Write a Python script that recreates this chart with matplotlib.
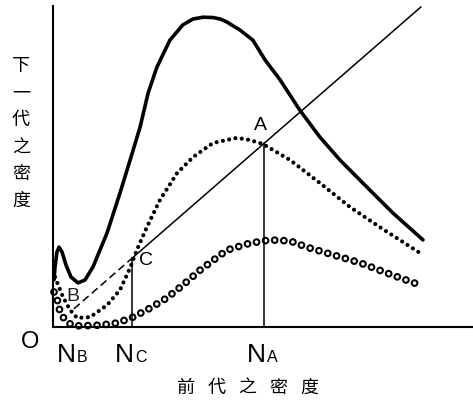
import matplotlib
matplotlib.use('Agg')
import matplotlib.pyplot as plt

plt.rcParams['lines.scale_dashes'] = False
plt.rcParams['font.family'] = ['Liberation Sans', 'DejaVu Sans']

# thick curve
solid_x = [0.24, 0.48, 0.95, 1.43, 2.15, 3.10, 4.30, 5.97, 7.64, 9.55, 12.9, 16.0,
           18.4, 20.8, 22.7, 24.8, 27.9, 31.0, 33.4, 35.8, 38.2, 39.9, 41.5, 43.0,
           44.6, 47.7, 50.6, 54.2, 58.9, 63.7, 68.5, 74.9, 81.1, 88.3]
solid_y = [12.9, 16.5, 20.6, 21.9, 20.6, 17.0, 13.7, 12.1, 12.9, 16.5, 25.8, 36.8,
           45.8, 54.9, 64.2, 71.3, 78.7, 82.9, 84.5, 85.0, 84.9, 84.5, 83.7, 82.6,
           81.5, 78.7, 73.3, 67.8, 59.5, 52.1, 45.8, 38.4, 31.3, 23.9]

# filled dotted curve
dot_x = [0.48, 2.39, 4.06, 5.73, 8.83, 12.9, 16.0, 18.4, 20.0, 22.4, 25.5, 29.6,
         33.4, 38.2, 43.9, 47.0, 50.1, 56.6, 63.7, 70.9, 78.0, 87.6]
dot_y = [13.7, 8.2, 4.7, 2.5, 2.7, 6.0, 10.2, 16.2, 21.1, 27.4, 34.8, 42.2,
         46.6, 50.5, 51.9, 51.3, 50.2, 45.8, 39.5, 32.9, 27.4, 20.3]

# open circle curve
ring_x = [0.24, 1.19, 1.67, 2.86, 4.5, 6.4, 11.2, 15.3, 19.1, 23.2, 27.2, 31.0,
          35.1, 41.5, 47.0, 51.8, 56.6, 60.6, 66.8, 73.3, 79.7, 87.6]
ring_y = [9.6, 6.9, 4.1, 1.9, 0.5, 0.3, 0.5, 1.1, 2.7, 5.2, 8.0, 11.5,
          15.6, 21.1, 23.0, 23.9, 23.6, 21.9, 19.8, 17.6, 14.8, 11.5]

# equilibrium points on the diagonal
N_B, N_C, N_A = 5.0, 18.9, 50.4
line_end = 87.8

xlabel = '前代之密度'
ylabel = '下一代之密度'

fig = plt.figure(figsize=(4.73, 4.01), dpi=100)
ax = fig.add_axes([53/473, 74/401, 419/473, 321/401])
ax.set_xlim(0, 100)
ax.set_ylim(0, 88.07)
for s in ['top', 'right']:
    ax.spines[s].set_visible(False)
for s in ['left', 'bottom']:
    ax.spines[s].set_linewidth(1.5)
ax.set_xticks([])
ax.set_yticks([])

# open circles: black dots with white centres, same dash pattern
ax.plot(ring_x, ring_y, color='k', lw=5.6, linestyle=(0, (0.01, 6.6)),
        dash_capstyle='round', clip_on=False)
ax.plot(ring_x, ring_y, color='white', lw=2.6, linestyle=(0, (0.01, 6.6)),
        dash_capstyle='round', clip_on=False)
ax.plot(dot_x, dot_y, color='k', lw=3.0, linestyle=(0, (0.01, 4.6)),
        dash_capstyle='round', clip_on=False)
ax.plot(solid_x, solid_y, color='k', lw=2.6, solid_joinstyle='round',
        solid_capstyle='round', clip_on=False)

# diagonal y = x
ax.plot([N_B, N_C], [N_B, N_C], color='k', lw=1.1, linestyle=(0, (5.5, 3)))
ax.plot([N_C, line_end], [N_C, line_end], color='k', lw=1.1)
ax.plot([N_C, N_C], [0, N_C], color='k', lw=1.1)
ax.plot([N_A, N_A], [0, N_A], color='k', lw=1.1)

# point labels
ax.annotate('A', xy=(N_A, N_A), xytext=(-3, 13), textcoords='offset points',
            ha='center', va='center', fontsize=14)
ax.annotate('C', xy=(N_C, N_C), xytext=(10, -1.5), textcoords='offset points',
            ha='center', va='center', fontsize=14)
ax.annotate('B', xy=(N_B, N_B), xytext=(-0.7, 8.6), textcoords='offset points',
            ha='center', va='center', fontsize=14, color='#222222')

# axis tick labels N_B, N_C, N_A
for val, letter in zip([N_B, N_C, N_A], ['B', 'C', 'A']):
    ax.annotate('N', xy=(val, 0), xytext=(1.5, -25), textcoords='offset points',
                ha='right', va='baseline', fontsize=19, annotation_clip=False)
    ax.annotate(letter, xy=(val, 0), xytext=(2.2, -25), textcoords='offset points',
                ha='left', va='baseline', fontsize=11.5, annotation_clip=False)
fig.text(30.5/473, 1 - 348/401, 'O', ha='center', va='baseline', fontsize=17)

cjk = ['Noto Sans CJK SC', 'DejaVu Sans']
for i, ch in enumerate(xlabel):
    fig.text((185.5 + 31*i)/473, 1 - 387.5/401, ch, ha='center', va='center',
             fontsize=13, family=cjk, fontweight='medium')
for i, ch in enumerate(ylabel):
    fig.text(21/473, 1 - (66.5 + 26.9*i)/401, ch, ha='center', va='center',
             fontsize=13, family=cjk, fontweight='medium')

fig.savefig('out.png', dpi=100)
